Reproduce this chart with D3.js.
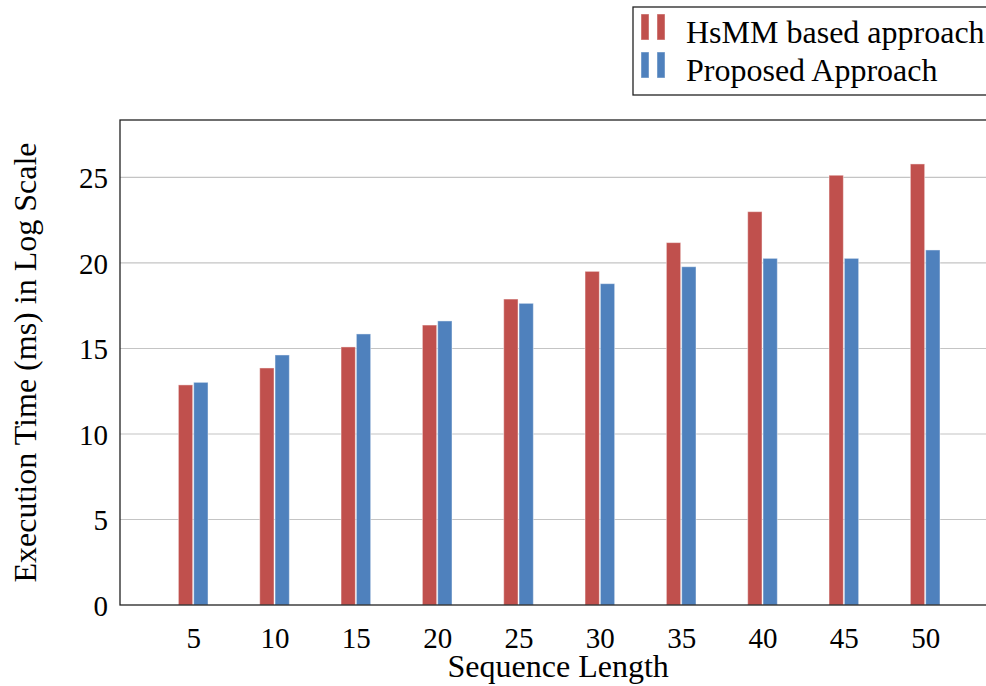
<!DOCTYPE html>
<html>
<head>
<meta charset="utf-8">
<script src="https://cdn.jsdelivr.net/npm/d3@7"></script>
<style>
  html, body { margin: 0; padding: 0; background: #fff; }
  svg { display: block; }
  text { font-family: "Liberation Serif", "Times New Roman", serif; fill: #000; }
</style>
</head>
<body>
<svg id="chart" width="986" height="686"></svg>
<script>
// Sequence lengths on the x axis
const lengths = [5, 10, 15, 20, 25, 30, 35, 40, 45, 50];
// Execution time (ms, log scale) for each approach
const hsmmValues = [12.87, 13.86, 15.09, 16.37, 17.89, 19.51, 21.19, 23.0, 25.13, 25.79];
const proposedValues = [13.02, 14.62, 15.85, 16.61, 17.64, 18.79, 19.78, 20.27, 20.27, 20.76];
const yTicks = [0, 5, 10, 15, 20, 25];
const seriesNames = ["HsMM based approach", "Proposed Approach"];
const seriesColors = ["#c0504d", "#4f81bd"];

const svg = d3.select("#chart");
const plot = { left: 120, top: 120, right: 1000, bottom: 605 };

const x = d3.scaleLinear().domain([0.5, 54.6]).range([plot.left, plot.right]);
const y = d3.scaleLinear().domain([0, 28.36]).range([plot.bottom, plot.top]);
const barW = 0.88; // bar width in x units

// Horizontal grid lines
svg.append("g")
  .selectAll("line")
  .data(yTicks.filter(d => d > 0))
  .join("line")
  .attr("x1", plot.left).attr("x2", plot.right)
  .attr("y1", d => y(d)).attr("y2", d => y(d))
  .attr("stroke", "#c4c4c4").attr("stroke-width", 1.2);

// Bars for both series
const series = [hsmmValues, proposedValues];
series.forEach((vals, si) => {
  svg.append("g")
    .selectAll("rect")
    .data(lengths.map((l, i) => ({ l, v: vals[i] })))
    .join("rect")
    .attr("x", d => si === 0 ? x(d.l - barW) - 0.5 : x(d.l) + 0.5)
    .attr("width", x(barW) - x(0))
    .attr("y", d => y(d.v))
    .attr("height", d => y(0) - y(d.v))
    .attr("fill", seriesColors[si])
    .attr("stroke", "#fff").attr("stroke-opacity", 0.45).attr("stroke-width", 1);
});

// Frame around the plot area
svg.append("rect")
  .attr("x", plot.left).attr("y", plot.top)
  .attr("width", plot.right - plot.left).attr("height", plot.bottom - plot.top)
  .attr("fill", "none").attr("stroke", "#222").attr("stroke-width", 1.3);

// Y axis
const yAxis = svg.append("g")
  .attr("transform", `translate(${plot.left},0)`)
  .call(d3.axisLeft(y).tickValues(yTicks).tickSize(0).tickPadding(12));
yAxis.select(".domain").remove();
yAxis.selectAll("text")
  .style("font-family", "'Liberation Serif', serif")
  .style("font-size", "29px").attr("fill", "#000").attr("dy", "0.35em");

// X axis
const xAxis = svg.append("g")
  .attr("transform", `translate(0,${plot.bottom})`)
  .call(d3.axisBottom(x).tickValues(lengths).tickSize(0).tickPadding(22));
xAxis.select(".domain").remove();
xAxis.selectAll("text")
  .style("font-family", "'Liberation Serif', serif")
  .style("font-size", "29px").attr("fill", "#000");

// Axis titles
svg.append("text")
  .attr("x", (x(5) + x(50)) / 2 - 1).attr("y", 677)
  .attr("text-anchor", "middle")
  .style("font-size", "32px")
  .text("Sequence Length");

svg.append("text")
  .attr("transform", `translate(36,${(plot.top + plot.bottom) / 2}) rotate(-90)`)
  .attr("text-anchor", "middle")
  .style("font-size", "32px")
  .text("Execution Time (ms) in Log Scale");

// Legend
const legend = svg.append("g");
legend.append("rect")
  .attr("x", 633).attr("y", 7).attr("width", 380).attr("height", 88)
  .attr("fill", "#fff").attr("stroke", "#222").attr("stroke-width", 1.3);
seriesNames.forEach((name, i) => {
  const top = 14 + i * 38;
  [641, 657].forEach(px => {
    legend.append("rect")
      .attr("x", px).attr("y", top).attr("width", 8).attr("height", 26)
      .attr("fill", seriesColors[i])
      .attr("stroke", "#fff").attr("stroke-opacity", 0.45);
  });
  legend.append("text")
    .attr("x", 686).attr("y", 43 + i * 38)
    .style("font-size", "32px")
    .text(name);
});
</script>
</body>
</html>
